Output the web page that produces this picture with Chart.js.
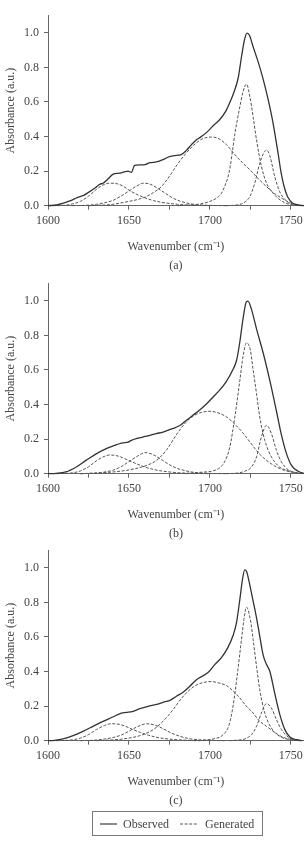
<!DOCTYPE html>
<html>
<head>
<meta charset="utf-8">
<script src="https://cdn.jsdelivr.net/npm/chart.js@4.4.1/dist/chart.umd.min.js"></script>
<style>
  html, body { margin: 0; padding: 0; background: #fff; }
  body { width: 307px; height: 841px; position: relative; overflow: hidden; font-family: 'Liberation Serif', 'Times New Roman', serif; color: #444; }
  canvas { position: absolute; left: 0; }
  #legend { position: absolute; left: 92px; top: 811px; width: 169px; height: 23px; border: 1px solid #7a7a7a; font-size: 12px; }
  #legend span { position: absolute; top: 5px; line-height: 14px; white-space: nowrap; }
  #legend svg { position: absolute; top: 11px; }
</style>
</head>
<body>
<canvas id="cA" width="307" height="275" style="top:0px"></canvas>
<canvas id="cB" width="307" height="275" style="top:268px"></canvas>
<canvas id="cC" width="307" height="275" style="top:535px"></canvas>
<div id="legend">
  <svg width="17" height="2" style="left:7px"><line x1="0" y1="1" x2="17" y2="1" stroke="#3a3a3a" stroke-width="1.2"/></svg>
  <span style="left:30px">Observed</span>
  <svg width="17" height="2" style="left:87px"><line x1="0" y1="1" x2="17" y2="1" stroke="#555" stroke-width="1" stroke-dasharray="3,1.6"/></svg>
  <span style="left:112px">Generated</span>
</div>
<script>
// ---- Data (wavenumber cm^-1, absorbance a.u.) ----
const xTickValues = [1600, 1650, 1700, 1750];
const yTickValues = [0.0, 0.2, 0.4, 0.6, 0.8, 1.0];
const panelCaptions = ['(a)', '(b)', '(c)'];

// Panel (a)
const observedA = [[1600,0],[1605,0.004],[1611,0.019],[1614,0.029],[1618,0.047],[1622,0.06],[1625,0.077],[1629,0.102],[1632,0.124],[1634,0.13],[1637,0.154],[1640,0.181],[1644,0.188],[1647,0.195],[1649.5,0.2],[1651.5,0.193],[1653.5,0.233],[1657,0.236],[1660,0.238],[1663,0.249],[1667,0.253],[1671,0.266],[1675,0.284],[1678,0.29],[1682,0.294],[1685.5,0.32],[1688.5,0.352],[1691.5,0.38],[1694,0.395],[1698,0.424],[1702,0.462],[1706,0.497],[1710,0.55],[1713,0.612],[1715,0.66],[1717.5,0.74],[1719.5,0.86],[1721.5,0.965],[1723,0.998],[1724.5,0.984],[1726.5,0.925],[1730,0.826],[1733,0.728],[1736,0.613],[1739,0.478],[1742,0.31],[1744,0.19],[1746,0.105],[1748,0.052],[1751,0.016],[1755,0.004],[1758,0]];
const band1A = [[1600,0],[1610,0.002],[1615,0.01],[1620,0.025],[1625,0.055],[1630,0.095],[1634,0.12],[1638,0.13],[1642,0.128],[1646,0.115],[1650,0.09],[1655,0.065],[1660,0.045],[1665,0.03],[1670,0.02],[1680,0.008],[1690,0.002],[1700,0]];
const band2A = [[1615,0],[1625,0.003],[1630,0.008],[1635,0.017],[1640,0.03],[1645,0.055],[1650,0.085],[1655,0.115],[1659,0.13],[1663,0.125],[1667,0.105],[1672,0.075],[1677,0.045],[1682,0.025],[1690,0.008],[1700,0.002],[1710,0]];
const band3A = [[1625,0],[1635,0.004],[1640,0.008],[1650,0.025],[1655,0.035],[1660,0.05],[1665,0.075],[1670,0.11],[1675,0.17],[1680,0.24],[1685,0.3],[1690,0.35],[1695,0.385],[1701,0.397],[1705,0.39],[1710,0.355],[1715,0.3],[1720,0.25],[1725,0.205],[1730,0.155],[1735,0.11],[1740,0.07],[1745,0.04],[1750,0.015],[1755,0.003],[1758,0]];
const band4A = [[1680,0],[1694,0.01],[1700,0.025],[1704,0.043],[1707,0.07],[1709,0.11],[1711,0.16],[1712.5,0.225],[1714,0.32],[1715.5,0.42],[1717,0.5],[1718.5,0.572],[1720.5,0.66],[1722.6,0.703],[1724.7,0.63],[1726.7,0.514],[1728.8,0.38],[1731.9,0.225],[1735,0.13],[1740,0.062],[1745,0.023],[1751,0.004],[1756,0]];
const band5A = [[1710,0],[1717,0.005],[1720.5,0.015],[1724.6,0.052],[1727.7,0.13],[1730.8,0.245],[1733,0.3],[1735,0.322],[1737,0.29],[1740,0.17],[1743.1,0.081],[1747.3,0.027],[1751,0.006],[1755,0]];

// Panel (b)
const observedB = [[1600,0],[1605,0.002],[1611,0.01],[1617.5,0.039],[1623.5,0.077],[1630,0.116],[1636,0.145],[1640,0.16],[1646,0.178],[1649.5,0.183],[1651.5,0.193],[1654.5,0.203],[1658.5,0.212],[1663,0.222],[1667,0.232],[1671,0.241],[1675,0.255],[1679,0.268],[1682,0.282],[1685.5,0.309],[1689.5,0.338],[1693.5,0.367],[1698,0.405],[1702,0.444],[1706,0.483],[1710,0.531],[1714,0.598],[1716.5,0.656],[1718.5,0.763],[1720.5,0.898],[1722.5,0.994],[1723.5,0.998],[1725.5,0.956],[1729,0.83],[1733,0.695],[1737,0.54],[1741,0.367],[1744,0.232],[1747.3,0.116],[1750.4,0.048],[1754.5,0.014],[1758,0.002]];
const band1B = [[1605,0],[1615,0.005],[1620,0.016],[1625,0.04],[1630,0.075],[1634,0.097],[1638,0.108],[1642,0.105],[1646,0.093],[1650,0.076],[1655,0.056],[1660,0.038],[1665,0.025],[1670,0.016],[1680,0.006],[1690,0.002],[1700,0]];
const band2B = [[1620,0],[1630,0.004],[1635,0.01],[1640,0.02],[1645,0.04],[1650,0.07],[1655,0.1],[1660,0.122],[1665,0.11],[1670,0.082],[1675,0.052],[1680,0.03],[1685,0.017],[1690,0.008],[1700,0.002],[1710,0]];
const band3B = [[1620,0],[1630,0.004],[1640,0.01],[1650,0.022],[1660,0.045],[1667,0.077],[1673,0.135],[1680,0.235],[1685,0.295],[1690,0.335],[1695,0.355],[1700,0.361],[1705,0.352],[1710,0.33],[1715,0.29],[1720,0.24],[1725,0.18],[1730,0.12],[1735,0.077],[1740,0.045],[1745,0.023],[1750,0.01],[1755,0.003],[1758,0]];
const band4B = [[1685,0],[1694,0.008],[1704,0.023],[1709,0.068],[1712.3,0.154],[1715.4,0.328],[1718.5,0.54],[1720.5,0.68],[1722.6,0.757],[1725,0.714],[1726.7,0.6],[1728.8,0.463],[1730.8,0.328],[1733.9,0.193],[1738,0.097],[1743,0.039],[1749.5,0.014],[1756,0]];
const band5B = [[1710,0],[1718,0.005],[1721.5,0.014],[1725.7,0.039],[1728.8,0.097],[1731.8,0.212],[1735,0.28],[1738,0.232],[1741.1,0.135],[1744.2,0.068],[1748.3,0.023],[1753.5,0.006],[1757,0]];

// Panel (c)
const observedC = [[1600,0],[1604,0.002],[1609.3,0.01],[1615.5,0.029],[1621.6,0.054],[1627.8,0.083],[1634,0.112],[1640,0.137],[1645.3,0.16],[1648.4,0.164],[1652.5,0.17],[1656.7,0.185],[1661.8,0.199],[1667,0.21],[1671,0.222],[1675,0.232],[1679.3,0.257],[1683.4,0.28],[1687.6,0.315],[1691.7,0.353],[1695.8,0.376],[1699,0.396],[1703,0.44],[1707,0.479],[1711,0.537],[1714.3,0.608],[1716.4,0.681],[1718.5,0.817],[1720.1,0.932],[1721.5,0.988],[1722.6,0.98],[1724.6,0.903],[1726.7,0.807],[1728.8,0.71],[1730.8,0.604],[1732.9,0.495],[1735,0.44],[1737,0.402],[1740,0.276],[1743.2,0.151],[1746.3,0.064],[1749.4,0.021],[1753.5,0.006],[1757,0]];
const band1C = [[1605,0],[1615,0.005],[1620,0.015],[1625,0.035],[1630,0.065],[1635,0.088],[1639,0.098],[1644,0.095],[1648,0.083],[1652,0.066],[1657,0.048],[1662,0.032],[1668,0.018],[1675,0.009],[1685,0.003],[1695,0]];
const band2C = [[1620,0],[1630,0.004],[1635,0.01],[1640,0.018],[1645,0.032],[1650,0.055],[1655,0.08],[1661,0.098],[1666,0.09],[1671,0.07],[1676,0.045],[1681,0.027],[1686,0.014],[1692,0.006],[1700,0.002],[1710,0]];
const band3C = [[1630,0],[1640,0.005],[1646.4,0.01],[1656.7,0.029],[1665,0.064],[1671,0.112],[1677.3,0.18],[1682,0.24],[1687.6,0.295],[1693,0.328],[1701,0.342],[1705,0.335],[1710.2,0.319],[1714,0.29],[1718.5,0.247],[1722,0.205],[1726.7,0.16],[1730,0.12],[1735,0.083],[1740,0.048],[1743.2,0.029],[1747,0.014],[1751.4,0.006],[1756,0]];
const band4C = [[1690,0],[1697,0.004],[1702,0.01],[1708.2,0.035],[1711.9,0.093],[1714.3,0.2],[1716.8,0.373],[1719.5,0.585],[1721,0.7],[1722.6,0.772],[1725,0.7],[1726.7,0.585],[1728.8,0.43],[1730.8,0.295],[1733.9,0.16],[1738,0.073],[1743.2,0.025],[1749.4,0.006],[1755,0]];
const band5C = [[1712,0],[1718,0.004],[1721.5,0.01],[1725.7,0.035],[1728.8,0.083],[1731.8,0.16],[1735,0.214],[1738,0.189],[1741.1,0.122],[1744.2,0.064],[1748.3,0.021],[1753.5,0.002],[1756,0]];

// ---- Rendering ----
const FONT = 'Liberation Serif';
const TEXT = '#444';
const AXIS = '#666';
const toXY = arr => arr.map(p => ({x: p[0], y: p[1]}));

function makePanel(id, observed, bands, caption) {
  const datasets = [{
    label: 'Observed', data: toXY(observed), borderColor: '#333', borderWidth: 1.3,
    pointRadius: 0, cubicInterpolationMode: 'monotone', clip: 4, order: 0
  }].concat(bands.map(b => ({
    label: 'Generated', data: toXY(b), borderColor: '#555', borderWidth: 1,
    borderDash: [3, 1.6], pointRadius: 0, cubicInterpolationMode: 'monotone', clip: 4, order: 1
  })));
  new Chart(document.getElementById(id), {
    type: 'line',
    data: { datasets },
    options: {
      responsive: false, animation: false, devicePixelRatio: 1,
      layout: { padding: { top: 15.5, right: 3, left: 0, bottom: 0 } },
      plugins: { legend: { display: false }, tooltip: { enabled: false } },
      scales: {
        x: {
          type: 'linear', min: 1600, max: 1758,
          ticks: {
            stepSize: 25, includeBounds: false, autoSkip: false, maxRotation: 0,
            callback: v => xTickValues.includes(v) ? String(v) : '',
            font: { family: FONT, size: 12 }, color: TEXT, padding: 4
          },
          grid: { drawOnChartArea: false, drawTicks: true, tickLength: 4, color: AXIS, tickColor: AXIS },
          border: { display: true, color: AXIS, width: 1 },
          title: {
            display: true, text: ['Wavenumber (cm\u207B\u00B9)', caption],
            font: { family: FONT, size: 12, lineHeight: 1.5417 }, color: TEXT,
            padding: { top: 0, bottom: 0 }
          },
          afterFit: s => { s.height = 275 - 205.7; }
        },
        y: {
          min: 0, max: 1.1,
          ticks: {
            stepSize: 0.1,
            callback: v => {
              const r = Math.round(v * 10) / 10;
              return yTickValues.some(t => Math.abs(t - r) < 1e-6) ? r.toFixed(1) : '';
            },
            font: { family: FONT, size: 12 }, color: TEXT, padding: 5
          },
          grid: { drawOnChartArea: false, drawTicks: true, tickLength: 4, color: AXIS, tickColor: AXIS },
          border: { display: true, color: AXIS, width: 1 },
          title: {
            display: true, text: 'Absorbance (a.u.)',
            font: { family: FONT, size: 12 }, color: TEXT,
            padding: { top: 4, bottom: 0 }
          },
          afterFit: s => { s.width = 48; }
        }
      }
    }
  });
}

makePanel('cA', observedA, [band1A, band2A, band3A, band4A, band5A], panelCaptions[0]);
makePanel('cB', observedB, [band1B, band2B, band3B, band4B, band5B], panelCaptions[1]);
makePanel('cC', observedC, [band1C, band2C, band3C, band4C, band5C], panelCaptions[2]);
</script>
</body>
</html>
